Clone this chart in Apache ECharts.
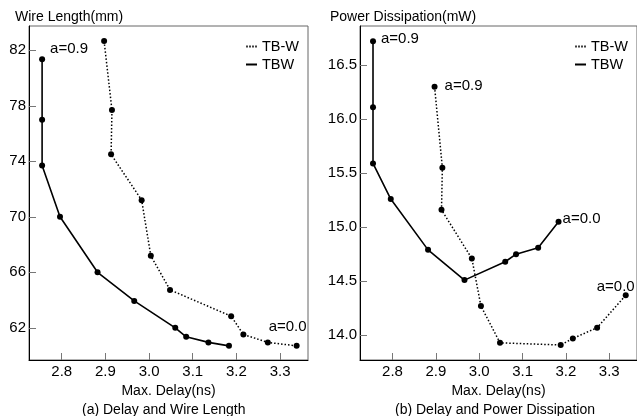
<!DOCTYPE html>
<html>
<head>
<meta charset="utf-8">
<script src="https://cdn.jsdelivr.net/npm/echarts@6/dist/echarts.min.js"></script>
<style>
  html, body { margin: 0; padding: 0; background: #fff; }
  #main { width: 637px; height: 416px; }
</style>
</head>
<body>
<div id="main"></div>
<script>
// max delay (ns), shared by both panels
var delayTBW = [2.755, 2.755, 2.755, 2.796, 2.882, 2.966, 3.060, 3.085, 3.136, 3.183];
var delayTB_W = [2.897, 2.915, 2.913, 2.983, 3.004, 3.048, 3.188, 3.216, 3.272, 3.338];
// (a) wire length (mm)
var wireTBW = [81.35, 77.0, 73.7, 70.0, 66.0, 63.94, 62.0, 61.35, 60.95, 60.7];
var wireTB_W = [82.67, 77.69, 74.5, 71.2, 67.19, 64.73, 62.84, 61.52, 60.95, 60.7];
// (b) power dissipation (mW)
var powerTBW = [16.72, 16.11, 15.59, 15.26, 14.79, 14.51, 14.68, 14.75, 14.81, 15.05];
var powerTB_W = [16.30, 15.55, 15.16, 14.71, 14.27, 13.93, 13.91, 13.97, 14.07, 14.37];
// tick labels
var delayTicks = [2.8, 2.9, 3.0, 3.1, 3.2, 3.3];
var wireTicks = [62, 66, 70, 74, 78, 82];
var powerTicks = [14.0, 14.5, 15.0, 15.5, 16.0, 16.5];

var FONT = "'Liberation Sans', Arial, sans-serif";

var myChart = echarts.init(document.getElementById('main'));

function annot(text, position, offset) {
    return { show: true, formatter: text, position: position, offset: offset,
             color: '#000', fontSize: 15, fontFamily: FONT };
}

// build point list, attaching annotation labels to given indices
function pts(xs, ys, labels) {
    return xs.map(function (x, i) {
        var item = { value: [x, ys[i]] };
        if (labels && labels[i]) item.label = labels[i];
        return item;
    });
}

function xAxisFor(idx) {
    return {
        type: 'value', gridIndex: idx, min: 2.725, max: 3.364,
        name: 'Max. Delay(ns)', nameLocation: 'middle', nameGap: 20,
        nameTextStyle: { fontSize: 14, fontFamily: FONT, color: '#000' },
        axisLine: { show: true, lineStyle: { color: '#000', width: 1 } },
        axisTick: { inside: true, length: 7, customValues: delayTicks, lineStyle: { color: '#777' } },
        axisLabel: { customValues: delayTicks, margin: 4, fontSize: 15, fontFamily: FONT, color: '#000',
                     formatter: function (v) { return v.toFixed(1); } },
        splitLine: { show: false }
    };
}

function yAxisFor(idx, min, max, ticks, digits) {
    return {
        type: 'value', gridIndex: idx, min: min, max: max,
        axisLine: { show: true, lineStyle: { color: '#000', width: 1 } },
        axisTick: { show: true, inside: true, length: 7, customValues: ticks, lineStyle: { color: '#777' } },
        axisLabel: { customValues: ticks, margin: 3, fontSize: 15, fontFamily: FONT, color: '#000',
                     formatter: function (v) { return v.toFixed(digits); } },
        splitLine: { show: false }
    };
}

function lineSeries(name, idx, data, dotted) {
    return {
        name: name, type: 'line', xAxisIndex: idx, yAxisIndex: idx,
        data: data, symbol: 'circle', symbolSize: 6, animation: false,
        itemStyle: { color: '#000', borderWidth: 0 },
        lineStyle: { color: '#000', width: dotted ? 1.5 : 1.6, type: dotted ? [1.5, 2] : 'solid' },
        label: { show: false }
    };
}

var dotIcon = 'path://M0,0h1.5v2h-1.5z M3,0h1.5v2h-1.5z M6,0h1.5v2h-1.5z M9,0h1.5v2h-1.5z';
var legendData = [
    { name: 'TB-W', icon: dotIcon },
    { name: 'TBW', icon: 'rect' }
];

function legendAt(left) {
    return {
        orient: 'vertical', left: left, top: 39, itemGap: 3,
        itemWidth: 11, itemHeight: 2, padding: 0,
        data: legendData, selectedMode: false,
        itemStyle: { borderWidth: 0 },
        textStyle: { fontSize: 14.5, fontFamily: FONT, color: '#000' }
    };
}

var titleStyle = { fontSize: 14, fontWeight: 'normal', fontFamily: FONT, color: '#000' };

var option = {
    backgroundColor: '#fff',
    animation: false,
    title: [
        { text: 'Wire Length(mm)', left: 15, top: 10, padding: 0, textStyle: titleStyle },
        { text: 'Power Dissipation(mW)', left: 330, top: 10, padding: 0, textStyle: titleStyle },
        { text: '(a) Delay and Wire Length', left: 82, top: 403, padding: 0, textStyle: titleStyle },
        { text: '(b) Delay and Power Dissipation', left: 395, top: 403, padding: 0, textStyle: titleStyle }
    ],
    legend: [legendAt(246), legendAt(575)],
    grid: [
        { left: 29, right: 329, top: 26, bottom: 56, show: true, borderColor: '#666', borderWidth: 1, backgroundColor: 'transparent' },
        { left: 360, right: -1, top: 26, bottom: 56, show: true, borderColor: '#666', borderWidth: 1, backgroundColor: 'transparent' }
    ],
    xAxis: [xAxisFor(0), xAxisFor(1)],
    yAxis: [
        yAxisFor(0, 59.68, 83.75, wireTicks, 0),
        yAxisFor(1, 13.771, 16.861, powerTicks, 1)
    ],
    series: [
        lineSeries('TB-W', 0, pts(delayTB_W, wireTB_W, { 9: annot('a=0.0', 'top', [-9, -3]) }), true),
        lineSeries('TBW', 0, pts(delayTBW, wireTBW, { 0: annot('a=0.9', 'right', [0, -10]) }), false),
        lineSeries('TB-W', 1, pts(delayTB_W, powerTB_W, {
            0: annot('a=0.9', 'right', [2, -1]),
            9: annot('a=0.0', 'top', [-10, 7])
        }), true),
        lineSeries('TBW', 1, pts(delayTBW, powerTBW, {
            0: annot('a=0.9', 'right', [0, -2]),
            9: annot('a=0.0', 'right', [-4, -3])
        }), false)
    ]
};
myChart.setOption(option);
</script>
</body>
</html>
